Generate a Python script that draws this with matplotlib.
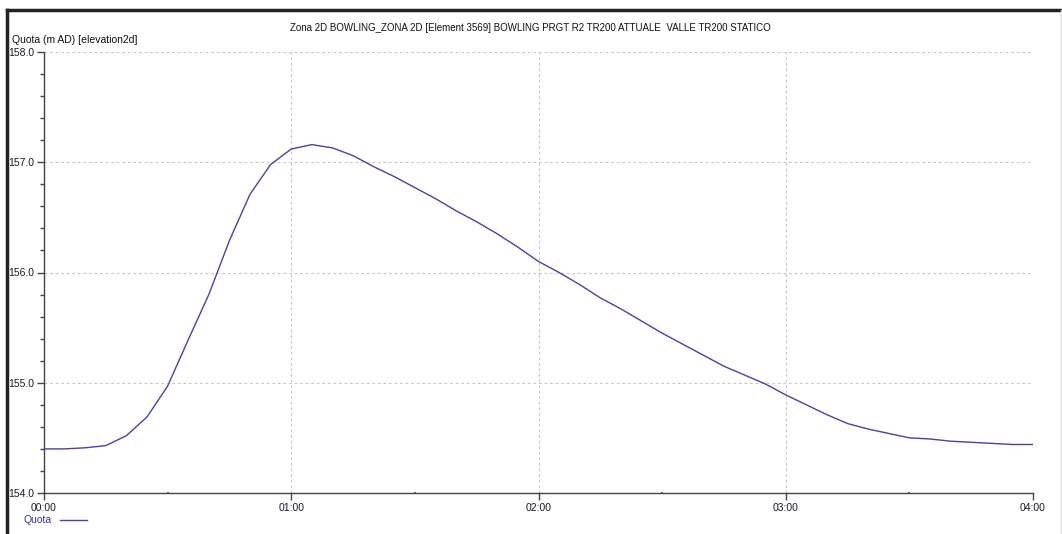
import matplotlib
matplotlib.use("Agg")
from matplotlib import pyplot as plt
from matplotlib.ticker import MultipleLocator, FuncFormatter
from matplotlib.lines import Line2D

title = "Zona 2D BOWLING_ZONA 2D [Element 3569] BOWLING PRGT R2 TR200 ATTUALE  VALLE TR200 STATICO"
y_label = "Quota (m AD) [elevation2d]"
series_name = "Quota"

# time in minutes from 00:00, one value every 5 minutes
minutes = list(range(0, 245, 5))
quota = [
    154.40, 154.40, 154.41, 154.43, 154.52, 154.69, 154.97, 155.39, 155.80, 156.29,
    156.71, 156.98, 157.12, 157.16, 157.13, 157.06, 156.96, 156.87, 156.77, 156.67,
    156.56, 156.46, 156.35, 156.23, 156.10, 156.00, 155.89, 155.77, 155.67, 155.56,
    155.45, 155.35, 155.25, 155.15, 155.07, 154.99, 154.89, 154.80, 154.71, 154.63,
    154.58, 154.54, 154.50, 154.49, 154.47, 154.46, 154.45, 154.44, 154.44,
]

line_color = "#4444aa"
text_color = "#1a1a2e"
plt.rcParams["font.family"] = ["Liberation Sans", "DejaVu Sans"]

fig = plt.figure(figsize=(10.62, 5.34), dpi=100)
ax = fig.add_axes([44 / 1062, 1 - 493 / 534, (1033 - 44) / 1062, (493 - 52) / 534])

ax.plot(minutes, quota, color=line_color, lw=1.0)

ax.set_xlim(0, 240)
ax.set_ylim(154.0, 158.0)
ax.xaxis.set_major_locator(MultipleLocator(60))
ax.xaxis.set_minor_locator(MultipleLocator(30))
ax.yaxis.set_major_locator(MultipleLocator(1.0))
ax.yaxis.set_minor_locator(MultipleLocator(0.2))
ax.xaxis.set_major_formatter(FuncFormatter(lambda v, p: f"{int(v) // 60:02d}:{int(v) % 60:02d}"))
ax.yaxis.set_major_formatter(FuncFormatter(lambda v, p: f"{v:.1f}"))

for side in ["top", "right"]:
    ax.spines[side].set_visible(False)
for side in ["left", "bottom"]:
    ax.spines[side].set_color("#444444")
    ax.spines[side].set_linewidth(1.0)

ax.tick_params(axis="both", which="major", length=5, width=1, color="#444444",
               labelsize=7.5, labelcolor=text_color, pad=2)
ax.tick_params(axis="y", which="minor", length=3, width=1, color="#444444")
ax.tick_params(axis="x", which="minor", length=2, width=1.5, color="#666666", direction="inout")

ax.grid(True, which="major", color="#c8c8c8", ls=(0, (2.5, 2.5)), lw=0.8)
ax.get_xgridlines()[-1].set_visible(False)
ax.set_axisbelow(True)

fig.text(530 / 1062, 1 - 28 / 534, title, ha="center", va="center", fontsize=7.0, color="#111111")
fig.text(12 / 1062, 1 - 40 / 534, y_label, ha="left", va="center", fontsize=7.5, color="#111111")

# legend below the axis
fig.text(23 / 1062, 1 - 520 / 534, series_name, ha="left", va="center", fontsize=7.5, color="#3333aa")
fig.add_artist(Line2D([60 / 1062, 87 / 1062], [1 - 520 / 534] * 2, color=line_color, lw=1.0))

# window frame
fig.add_artist(Line2D([7 / 1062, 1], [1 - 10 / 534] * 2, color="#222222", lw=2.5))
fig.add_artist(Line2D([7 / 1062] * 2, [0, 1 - 10 / 534], color="#222222", lw=2.5))
fig.add_artist(Line2D([1061 / 1062] * 2, [0, 1 - 10 / 534], color="#dddddd", lw=1.0))

plt.savefig("out.png", dpi=100)
plt.close()
